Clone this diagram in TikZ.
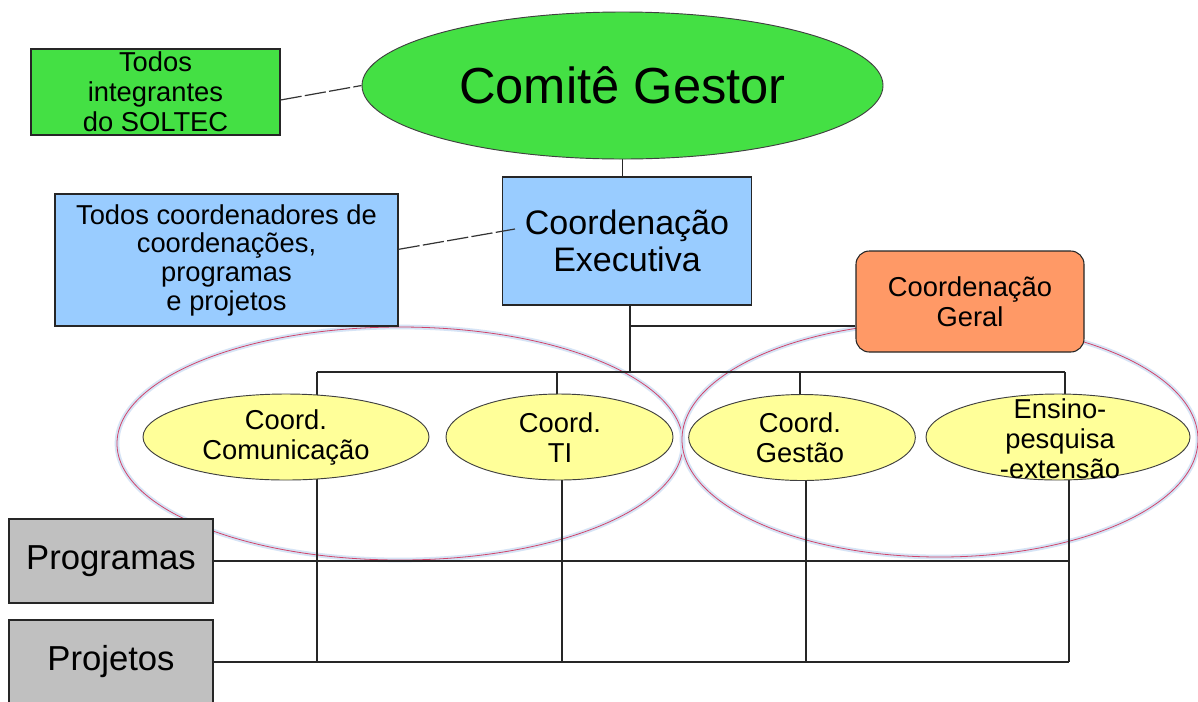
\documentclass[tikz,border=0pt]{standalone}
\usepackage{fontspec}
\setmainfont{Liberation Sans}
\usetikzlibrary{shapes.geometric,backgrounds}
\definecolor{cgreen}{HTML}{44E044}
\definecolor{cblue}{HTML}{99CCFF}
\definecolor{corange}{HTML}{FF9966}
\definecolor{cyellow}{HTML}{FFFF99}
\definecolor{cgray}{HTML}{C0C0C0}
\definecolor{cring}{HTML}{D0456A}
\definecolor{cglow}{HTML}{D6E4F6}
\begin{document}
\begin{tikzpicture}[x=0.75pt,y=-0.75pt,
  boxnode/.style={draw=black!85, line width=0.8pt, inner sep=0pt, align=center, text=black},
  ellnode/.style={ellipse, draw=black!75, line width=0.7pt, inner sep=0pt},
  smallfont/.style={font=\fontsize{20.5pt}{22.5pt}\selectfont},
  txt/.style={align=center, inner sep=0pt, text=black},
  link/.style={draw=black!85, line width=0.9pt},
  dashlink/.style={draw=black!80, line width=0.9pt, dash pattern=on 16pt off 2.5pt},
  ringglow/.style={draw=cglow, line width=3.5pt},
  ring/.style={draw=cring, line width=0.6pt}
]
\useasboundingbox (0,0) rectangle (1198,701);

% top level
\node[ellnode, fill=cgreen, minimum width=390.75pt, minimum height=110.25pt,
      font=\fontsize{38pt}{44pt}\selectfont] (comite) at (622.5,85.5) {Comitê Gestor};
\node[boxnode, fill=cgreen, minimum width=186.75pt, minimum height=64.5pt, smallfont]
      (gbox) at (155.5,92) {Todos\\integrantes\\do SOLTEC};
\node[boxnode, fill=cblue, minimum width=186.75pt, minimum height=96pt,
      font=\fontsize{25.5pt}{28pt}\selectfont] (exec) at (627,241) {Coordenação\\Executiva};
\node[boxnode, fill=cblue, minimum width=257.25pt, minimum height=99pt,
      font=\fontsize{20.5pt}{21.5pt}\selectfont] (lbox) at (226.5,260)
      {Todos coordenadores de\\coordenações,\\programas\\e projetos};

% group rings (placeholders)
\node[ellipse, inner sep=0pt, minimum width=424.5pt, minimum height=174.75pt] (ringL) at (400,443.5) {};
\node[ellipse, inner sep=0pt, minimum width=387pt, minimum height=176.25pt] (ringR) at (940,439.5) {};

% second level
\node[boxnode, fill=corange, rounded corners=10pt, minimum width=171pt, minimum height=75.75pt, smallfont]
      (geral) at (970,301.5) {Coordenação\\Geral};

\node[ellnode, fill=cyellow, minimum width=214.5pt, minimum height=64.5pt] (comm) at (286,437) {};
\node[ellnode, fill=cyellow, minimum width=170.25pt, minimum height=64.5pt] (ti) at (559.5,437) {};
\node[ellnode, fill=cyellow, minimum width=170pt, minimum height=64.5pt] (gest) at (802,437.5) {};
\node[ellnode, fill=cyellow, minimum width=198pt, minimum height=64.5pt] (ens) at (1058,437) {};

\node[txt, smallfont] (commT) at (286,437.5) {Coord.\\Comunicação};
\node[txt, smallfont] (tiT) at (560,437.5) {Coord.\\TI};
\node[txt, smallfont] (gestT) at (800,437.5) {Coord.\\Gestão};
\node[txt, smallfont] (ensT) at (1060,439) {Ensino-\\pesquisa\\-extensão};

% lower boxes
\node[boxnode, fill=cgray, minimum width=153pt, minimum height=63pt,
      font=\fontsize{26pt}{30pt}\selectfont] (prog) at (111,561) {Programas};
\node[boxnode, fill=cgray, minimum width=153pt, minimum height=63pt,
      font=\fontsize{26pt}{30pt}\selectfont] (proj) at (111,662) {Projetos};

% bus coordinates
\coordinate (busL) at (317,372);
\coordinate (busR) at (1065,372);
\coordinate (endR) at (1069,662);
\coordinate (tee) at (630,326);

\begin{scope}[on background layer]
  \fill[white] (0,0) rectangle (1198,701);
  \draw[ringglow] (ringL.center) ellipse [x radius=283, y radius=116.5];
  \draw[ring] (ringL.center) ellipse [x radius=283, y radius=116.5];
  \draw[ringglow] (ringR.center) ellipse [x radius=258, y radius=117.5];
  \draw[ring] (ringR.center) ellipse [x radius=258, y radius=117.5];

  \draw[link] (comite.south) -- (comite.south |- exec.north);
  \draw[link] (tee |- exec.south) -- (tee |- busL);
  \draw[link] (tee) -- (tee -| geral.west);
  \draw[link] (busL) -- (busR);
  \draw[link] (busL) -- (busL |- comm.center);
  \draw[link] (557,372) -- (557,437);
  \draw[link] (800,372) -- (800,437);
  \draw[link] (busR) -- (busR |- ens.center);

  \draw[link] (comm.center -| busL) -- (busL |- proj.east);
  \draw[link] (562,437) -- (562,662);
  \draw[link] (806,437) -- (806,662);
  \draw[link] (endR |- ens.center) -- (endR);
  \draw[link] (prog.east) -- (prog.east -| endR);
  \draw[link] (proj.east) -- (endR);
\end{scope}

\draw[dashlink] ([yshift=-6pt]gbox.east) -- (comite.west);
\draw[dashlink] ([yshift=8pt]lbox.east) -- ([xshift=9.75pt,yshift=9pt]exec.west);
\end{tikzpicture}
\end{document}
